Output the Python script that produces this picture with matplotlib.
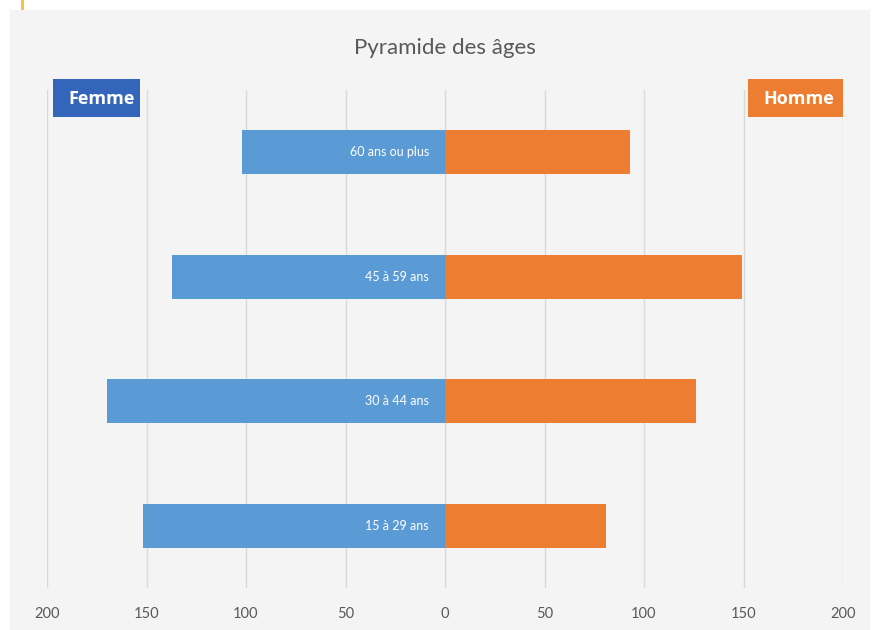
import matplotlib.pyplot as plt
from matplotlib.patches import Rectangle

# === Data ===
age_groups = ["15 à 29 ans", "30 à 44 ans", "45 à 59 ans", "60 ans ou plus"]
femmes = [152, 170, 137, 102]
hommes = [81, 126, 149, 93]
tick_values = [-200, -150, -100, -50, 0, 50, 100, 150, 200]
tick_labels = ["200", "150", "100", "50", "0", "50", "100", "150", "200"]

BLUE = "#5b9bd5"
ORANGE = "#ed7d31"
TEXT_GRAY = "#595959"
GRID_GRAY = "#d9d9d9"

plt.rcParams["font.family"] = ["Lato", "DejaVu Sans"]

fig = plt.figure(figsize=(8.74, 6.30), dpi=100)
fig.patch.set_facecolor("white")

# light grey chart area and the small yellow mark at the top
fig.patches.append(Rectangle((10 / 874, 0), 860 / 874, 620 / 630,
                             transform=fig.transFigure, facecolor="#f4f4f4",
                             edgecolor="none", zorder=0))
fig.patches.append(Rectangle((21 / 874, 620 / 630), 3 / 874, 10 / 630,
                             transform=fig.transFigure, facecolor="#f5c242",
                             edgecolor="none", zorder=0))

ax = fig.add_axes([47 / 874, 42 / 630, 796 / 874, 498 / 630])
ax.set_zorder(2)
ax.set_facecolor("none")

pos = list(range(len(age_groups)))
neg_femmes = [-v for v in femmes]
ax.barh(pos, neg_femmes, height=0.35, color=BLUE, zorder=3)
ax.barh(pos, hommes, height=0.35, color=ORANGE, zorder=3)

for p, label in zip(pos, age_groups):
    ax.text(-8, p, label, ha="right", va="center", color="white",
            fontsize=9, zorder=4)

ax.set_xlim(-200, 200)
ax.set_ylim(-0.5, 3.5)
ax.set_xticks(tick_values)
ax.set_xticklabels(tick_labels, color=TEXT_GRAY, fontsize=10.5)
ax.set_yticks([])
ax.tick_params(axis="x", length=0, pad=14)
ax.grid(axis="x", color=GRID_GRAY, linewidth=1, zorder=1)
for side in ax.spines.values():
    side.set_visible(False)

fig.text(445 / 874, 582 / 630, "Pyramide des âges", ha="center", va="center",
         fontsize=16, color=TEXT_GRAY, zorder=3)

# legend-like boxes in the corners, text clipped by the box like the original
for x0, w, color, label in [(53, 87, "#3366bb", "Femme"), (748, 95, ORANGE, "Homme")]:
    box = Rectangle((x0 / 874, 513 / 630), w / 874, 38 / 630,
                    transform=fig.transFigure, facecolor=color, edgecolor="none",
                    zorder=3)
    fig.patches.append(box)
    t = fig.text((x0 + 15) / 874, 531 / 630, label, ha="left", va="center",
                 fontsize=13, fontweight="bold", family="Open Sans",
                 color="white", zorder=4)
    t.set_clip_path(box)

fig.savefig("out.png", dpi=100)
